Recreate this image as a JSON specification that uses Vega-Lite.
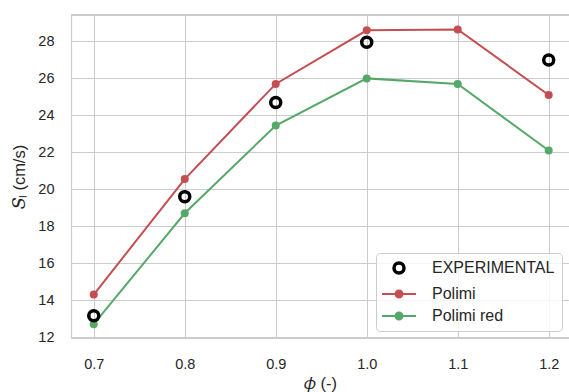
{
  "$schema": "https://vega.github.io/schema/vega-lite/v6.json",
  "width": 498,
  "height": 323,
  "autosize": {"type": "none"},
  "padding": {"left": 71, "top": 15, "right": 0, "bottom": 54},
  "background": "white",
  "config": {
    "view": {"stroke": null},
    "font": "Liberation Sans",
    "axis": {
      "grid": true,
      "gridColor": "#cccccc",
      "gridWidth": 1,
      "domainColor": "#cccccc",
      "domainWidth": 1.2,
      "ticks": false,
      "tickSize": 0,
      "labelFont": "Liberation Sans",
      "labelFontSize": 14.5,
      "labelColor": "#262626",
      "titleFont": "Liberation Sans",
      "titleFontSize": 16.5,
      "titleFontWeight": "normal",
      "titleColor": "#262626"
    },
    "legend": {
      "orient": "bottom-right",
      "offset": 7,
      "padding": 7,
      "fillColor": "rgba(255,255,255,0.8)",
      "strokeColor": "#cccccc",
      "cornerRadius": 4,
      "labelFont": "Liberation Sans",
      "labelFontSize": 16,
      "labelColor": "#262626",
      "symbolSize": 144,
      "symbolOffset": 8,
      "labelOffset": 25,
      "rowPadding": 6,
      "titlePadding": 0
    }
  },
  "data": {
    "values": [
      {"series": "EXPERIMENTAL", "phi": 0.7, "SL": 13.15},
      {"series": "EXPERIMENTAL", "phi": 0.8, "SL": 19.6},
      {"series": "EXPERIMENTAL", "phi": 0.9, "SL": 24.7},
      {"series": "EXPERIMENTAL", "phi": 1.0, "SL": 27.95},
      {"series": "EXPERIMENTAL", "phi": 1.2, "SL": 27.0},
      {"series": "Polimi", "phi": 0.7, "SL": 14.3},
      {"series": "Polimi", "phi": 0.8, "SL": 20.55},
      {"series": "Polimi", "phi": 0.9, "SL": 25.7},
      {"series": "Polimi", "phi": 1.0, "SL": 28.6},
      {"series": "Polimi", "phi": 1.1, "SL": 28.65},
      {"series": "Polimi", "phi": 1.2, "SL": 25.1},
      {"series": "Polimi red", "phi": 0.7, "SL": 12.7},
      {"series": "Polimi red", "phi": 0.8, "SL": 18.7},
      {"series": "Polimi red", "phi": 0.9, "SL": 23.45},
      {"series": "Polimi red", "phi": 1.0, "SL": 26.0},
      {"series": "Polimi red", "phi": 1.1, "SL": 25.7},
      {"series": "Polimi red", "phi": 1.2, "SL": 22.1}
    ]
  },
  "layer": [
    {
      "transform": [{"filter": "datum.series !== 'EXPERIMENTAL'"}],
      "mark": {"type": "line", "strokeWidth": 2},
      "encoding": {
        "x": {
          "field": "phi", "type": "quantitative",
          "scale": {"domain": [0.675, 1.2223], "nice": false, "zero": false},
          "axis": {"grid": true, "values": [0.7, 0.8, 0.9, 1.0, 1.1, 1.2], "format": ".1f", "title": "𝜙 (-)", "labelPadding": 19, "titlePadding": 5}
        },
        "y": {
          "field": "SL", "type": "quantitative",
          "scale": {"domain": [11.95, 29.43], "nice": false, "zero": false},
          "axis": {"grid": true, "values": [12, 14, 16, 18, 20, 22, 24, 26, 28], "format": "d", "title": "𝑆ₗ (cm/s)", "labelPadding": 17, "titlePadding": 10}
        },
        "stroke": {
          "field": "series", "type": "nominal",
          "title": null,
          "scale": {"domain": ["EXPERIMENTAL", "Polimi", "Polimi red"], "range": ["#000000", "#c44e52", "#55a868"]},
          "legend": {
            "title": null,
            "encode": {
              "symbols": {
                "update": {
                  "shape": {"signal": "datum.value === 'EXPERIMENTAL' ? 'circle' : 'M-2.83,0L2.83,0M0.58,0C0.58,0.32 0.32,0.58 0,0.58C-0.32,0.58 -0.58,0.32 -0.58,0C-0.58,-0.32 -0.32,-0.58 0,-0.58C0.32,-0.58 0.58,-0.32 0.58,0Z'"},
                  "strokeWidth": {"signal": "datum.value === 'EXPERIMENTAL' ? 3.5 : 2"},
                  "size": {"signal": "datum.value === 'EXPERIMENTAL' ? 100 : 144"},
                  "opacity": {"value": 1},
                  "fillOpacity": {"value": 1},
                  "strokeOpacity": {"value": 1}
                }
              }
            }
          }
        }
      }
    },
    {
      "transform": [{"filter": "datum.series !== 'EXPERIMENTAL'"}],
      "mark": {"type": "point", "filled": true, "size": 64, "opacity": 1, "strokeWidth": 0},
      "encoding": {
        "x": {"field": "phi", "type": "quantitative"},
        "y": {"field": "SL", "type": "quantitative"},
        "stroke": {"field": "series", "type": "nominal", "title": null},
        "fill": {
          "field": "series", "type": "nominal",
          "title": null,
          "scale": {"domain": ["EXPERIMENTAL", "Polimi", "Polimi red"], "range": ["#ffffff", "#c44e52", "#55a868"]},
          "legend": {
            "title": null,
            "encode": {
              "symbols": {
                "update": {
                  "shape": {"signal": "datum.value === 'EXPERIMENTAL' ? 'circle' : 'M-2.83,0L2.83,0M0.58,0C0.58,0.32 0.32,0.58 0,0.58C-0.32,0.58 -0.58,0.32 -0.58,0C-0.58,-0.32 -0.32,-0.58 0,-0.58C0.32,-0.58 0.58,-0.32 0.58,0Z'"},
                  "strokeWidth": {"signal": "datum.value === 'EXPERIMENTAL' ? 3.5 : 2"},
                  "size": {"signal": "datum.value === 'EXPERIMENTAL' ? 100 : 144"},
                  "opacity": {"value": 1},
                  "fillOpacity": {"value": 1},
                  "strokeOpacity": {"value": 1}
                }
              }
            }
          }
        }
      }
    },
    {
      "transform": [{"filter": "datum.series === 'EXPERIMENTAL'"}],
      "mark": {"type": "point", "filled": false, "size": 100, "strokeWidth": 3.5, "opacity": 1, "fillOpacity": 0},
      "encoding": {
        "x": {"field": "phi", "type": "quantitative"},
        "y": {"field": "SL", "type": "quantitative"},
        "stroke": {"field": "series", "type": "nominal", "title": null}
      }
    },
    {
      "mark": {"type": "rule", "color": "#cccccc", "strokeWidth": 1.2},
      "encoding": {"y": {"datum": 29.43, "type": "quantitative"}}
    }
  ]
}
